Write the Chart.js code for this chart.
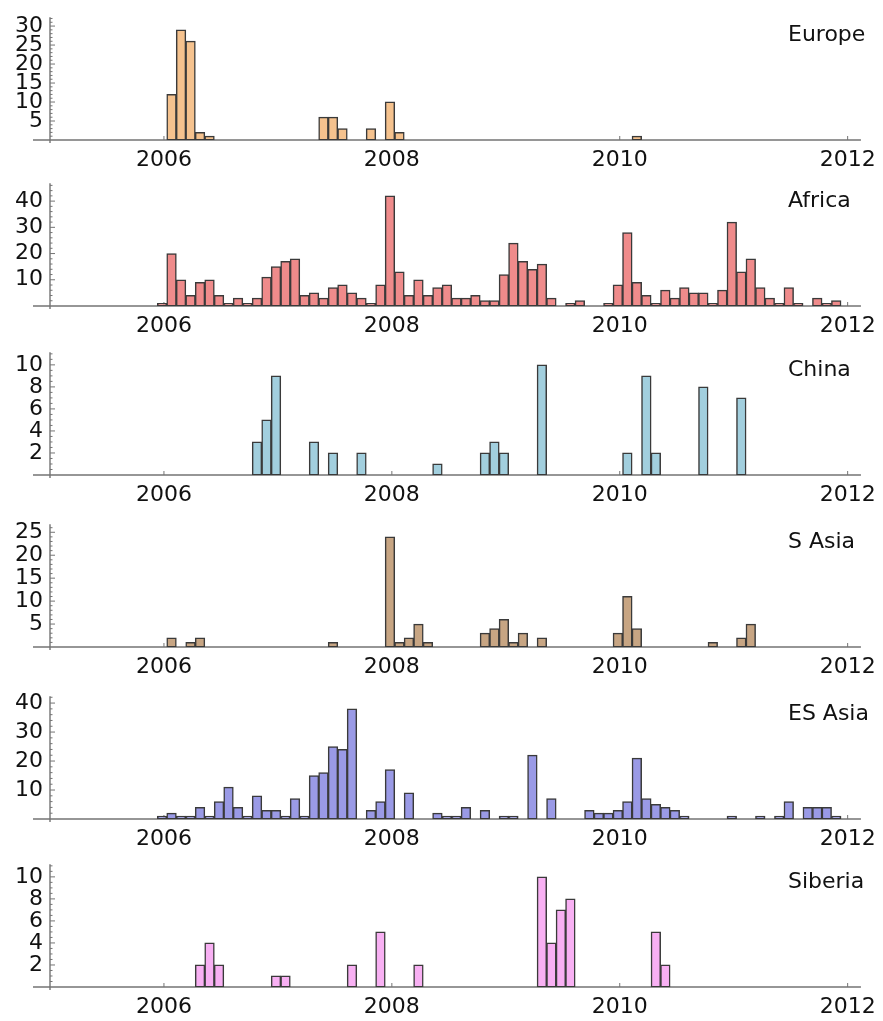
<!DOCTYPE html>
<html>
<head>
<meta charset="utf-8">
<script src="https://cdn.jsdelivr.net/npm/chart.js@4.4.1/dist/chart.umd.min.js"></script>
<style>
html,body{margin:0;background:#fff}
#wrap{position:relative;width:883px;height:1021px;overflow:hidden}
.panel{position:absolute;left:0;width:883px}
</style>
</head>
<body>
<div id="wrap"></div>
<script>
// monthly counts, one bin per month from Dec 2005 to Dec 2011
// (bin index counted in months from Jan 2006, so the first bin is -1)
const firstBin = -1;

const europe = [
  0,
  12, 29, 26, 2, 1, 0, 0, 0, 0, 0, 0, 0,
  0, 0, 0, 0, 6, 6, 3, 0, 0, 3, 0, 10,
  2, 0, 0, 0, 0, 0, 0, 0, 0, 0, 0, 0,
  0, 0, 0, 0, 0, 0, 0, 0, 0, 0, 0, 0,
  0, 1, 0, 0, 0, 0, 0, 0, 0, 0, 0, 0,
  0, 0, 0, 0, 0, 0, 0, 0, 0, 0, 0, 0
];
const africa = [
  1,
  20, 10, 4, 9, 10, 4, 1, 3, 1, 3, 11, 15,
  17, 18, 4, 5, 3, 7, 8, 5, 3, 1, 8, 42,
  13, 4, 10, 4, 7, 8, 3, 3, 4, 2, 2, 12,
  24, 17, 14, 16, 3, 0, 1, 2, 0, 0, 1, 8,
  28, 9, 4, 1, 6, 3, 7, 5, 5, 1, 6, 32,
  13, 18, 7, 3, 1, 7, 1, 0, 3, 1, 2, 0
];
const china = [
  0,
  0, 0, 0, 0, 0, 0, 0, 0, 0, 3, 5, 9,
  0, 0, 0, 3, 0, 2, 0, 0, 2, 0, 0, 0,
  0, 0, 0, 0, 1, 0, 0, 0, 0, 2, 3, 2,
  0, 0, 0, 10, 0, 0, 0, 0, 0, 0, 0, 0,
  2, 0, 9, 2, 0, 0, 0, 0, 8, 0, 0, 0,
  7, 0, 0, 0, 0, 0, 0, 0, 0, 0, 0, 0
];
const sAsia = [
  0,
  2, 0, 1, 2, 0, 0, 0, 0, 0, 0, 0, 0,
  0, 0, 0, 0, 0, 1, 0, 0, 0, 0, 0, 24,
  1, 2, 5, 1, 0, 0, 0, 0, 0, 3, 4, 6,
  1, 3, 0, 2, 0, 0, 0, 0, 0, 0, 0, 3,
  11, 4, 0, 0, 0, 0, 0, 0, 0, 1, 0, 0,
  2, 5, 0, 0, 0, 0, 0, 0, 0, 0, 0, 0
];
const esAsia = [
  1,
  2, 1, 1, 4, 1, 6, 11, 4, 1, 8, 3, 3,
  1, 7, 1, 15, 16, 25, 24, 38, 0, 3, 6, 17,
  0, 9, 0, 0, 2, 1, 1, 4, 0, 3, 0, 1,
  1, 0, 22, 0, 7, 0, 0, 0, 3, 2, 2, 3,
  6, 21, 7, 5, 4, 3, 1, 0, 0, 0, 0, 1,
  0, 0, 1, 0, 1, 6, 0, 4, 4, 4, 1, 0
];
const siberia = [
  0,
  0, 0, 0, 2, 4, 2, 0, 0, 0, 0, 0, 1,
  1, 0, 0, 0, 0, 0, 0, 2, 0, 0, 5, 0,
  0, 0, 2, 0, 0, 0, 0, 0, 0, 0, 0, 0,
  0, 0, 0, 10, 4, 7, 8, 0, 0, 0, 0, 0,
  0, 0, 0, 5, 2, 0, 0, 0, 0, 0, 0, 0,
  0, 0, 0, 0, 0, 0, 0, 0, 0, 0, 0, 0
];

const regions = ['Europe', 'Africa', 'China', 'S Asia', 'ES Asia', 'Siberia'];
const series = [europe, africa, china, sAsia, esAsia, siberia];
const yearTicks = [2006, 2008, 2010, 2012];
const majorSteps = [5, 10, 2, 5, 10, 2];
const minorSteps = [1, 2, 0.5, 1, 2, 0.5];
const fills = ['#F5C28E', '#EF8B8B', '#A2CFDE', '#C7A583', '#9A9AE6', '#F8B0F3'];

// layout, px
const baselines = [140, 306, 474.5, 646.5, 818.5, 987];
const plotH = 131, padTop = 12, xAxisH = 30;
const binShift = 0.3; // source bins sit a little right of the month grid

Chart.defaults.font.family = '"DejaVu Sans", sans-serif';
Chart.defaults.font.size = 22;
Chart.defaults.color = '#111';

// Mathematica-style axes: lines through the origin, ticks pointing inwards
const axesPlugin = {
  id: 'mmaAxes',
  beforeDatasetsDraw(chart) {
    const {ctx, chartArea: a, scales: {x, y}} = chart;
    const y0 = y.getPixelForValue(0);
    const x0 = x.getPixelForValue(x.min);
    ctx.save();
    ctx.strokeStyle = '#747474';
    ctx.lineWidth = 1.4;
    ctx.beginPath();
    ctx.moveTo(x0 - 17, y0);
    ctx.lineTo(a.right, y0);
    ctx.moveTo(x0, y0 + 3);
    ctx.lineTo(x0, a.top);
    ctx.stroke();
    ctx.lineWidth = 1;
    ctx.beginPath();
    y.ticks.forEach(t => {
      if (t.value <= 0) return;
      const py = y.getPixelForValue(t.value);
      ctx.moveTo(x0, py);
      ctx.lineTo(x0 + (t.minor ? 2.5 : 5), py);
    });
    x.ticks.forEach(t => {
      const px = x.getPixelForValue(t.value);
      ctx.moveTo(px, y0);
      ctx.lineTo(px, y0 - 4);
    });
    ctx.stroke();
    ctx.restore();
  }
};

const regionLabel = {
  id: 'regionLabel',
  afterDraw(chart) {
    const {ctx, scales: {y}} = chart;
    ctx.save();
    ctx.font = '22px "DejaVu Sans", sans-serif';
    ctx.fillStyle = '#111';
    ctx.textAlign = 'left';
    ctx.textBaseline = 'middle';
    ctx.fillText(chart.data.datasets[0].label, 788, y.getPixelForValue(0) - 105);
    ctx.restore();
  }
};

const wrap = document.getElementById('wrap');

regions.forEach((name, i) => {
  const div = document.createElement('div');
  div.className = 'panel';
  div.style.top = (baselines[i] - plotH - padTop) + 'px';
  div.style.height = (padTop + plotH + xAxisH) + 'px';
  const cv = document.createElement('canvas');
  div.appendChild(cv);
  wrap.appendChild(div);

  const vals = series[i];
  const pts = vals.map((v, j) => ({x: firstBin + j + 0.5 + binShift, y: v || null}));
  const yTop = Math.max(...vals) * 1.115;
  const major = majorSteps[i], minor = minorSteps[i];

  new Chart(cv, {
    type: 'bar',
    data: {
      datasets: [{
        label: name,
        data: pts,
        backgroundColor: fills[i],
        borderColor: '#3a3a3a',
        borderWidth: 1.5,
        borderSkipped: false,
        inflateAmount: 0.4,
        barPercentage: 1,
        categoryPercentage: 1
      }]
    },
    options: {
      responsive: true,
      maintainAspectRatio: false,
      animation: false,
      layout: {padding: {top: padTop, right: 22, left: 0, bottom: 0}},
      plugins: {legend: {display: false}, tooltip: {enabled: false}},
      scales: {
        x: {
          type: 'linear',
          offset: false,
          min: -12,
          max: 73.4,
          border: {display: false},
          grid: {display: false, drawTicks: false, offset: false},
          afterBuildTicks: s => { s.ticks = yearTicks.map(t => ({value: (t - 2006) * 12})); },
          afterFit: s => { s.height = xAxisH; },
          ticks: {autoSkip: false, maxRotation: 0, padding: 7,
                  callback: v => String(2006 + v / 12)}
        },
        y: {
          min: 0,
          max: yTop,
          border: {display: false},
          grid: {display: false, drawTicks: false},
          afterBuildTicks: s => {
            const n = Math.floor(yTop / minor + 1e-9);
            const t = [];
            for (let k = 0; k <= n; k++) {
              const v = +(k * minor).toFixed(3);
              const r = v / major;
              t.push({value: v, minor: v === 0 || Math.abs(r - Math.round(r)) > 1e-6});
            }
            s.ticks = t;
          },
          afterFit: s => { s.width = 50; },
          ticks: {autoSkip: false, padding: 7,
                  callback: (v, k, t) => t[k].minor ? '' : String(v)}
        }
      }
    },
    plugins: [axesPlugin, regionLabel]
  });
});
</script>
</body>
</html>
